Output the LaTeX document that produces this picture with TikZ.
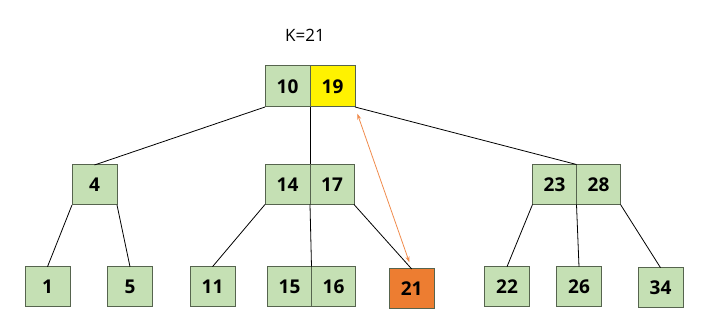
\documentclass[tikz,border=0pt]{standalone}
\usepackage{fontspec}
\setmainfont{Open Sans}
\usetikzlibrary{arrows.meta,positioning}
\definecolor{keygreen}{HTML}{C5E0B4}
\definecolor{keyline}{HTML}{56644E}
\definecolor{hitorange}{HTML}{ED7D31}
\definecolor{pathorange}{HTML}{F08C4E}
\tikzset{
  keybox/.style={draw=keyline,line width=1pt,fill=keygreen,minimum width=45pt,
    minimum height=40pt,inner sep=0pt,outer sep=0pt,font=\fontsize{19}{19}\selectfont\bfseries},
  edge/.style={line width=0.8pt},
  tracearrow/.style={draw=pathorange,line width=0.8pt,{Stealth[length=6pt,width=4pt]}-{Stealth[length=6pt,width=4pt]},
    shorten <=7pt,shorten >=7pt}
}
\begin{document}
\begin{tikzpicture}[x=1pt,y=-1pt]
\useasboundingbox (0,0) rectangle (712,328);
\node[font=\fontsize{17}{17}\selectfont] (query) at (305,35) {K=21};

% root
\node[keybox,minimum height=41pt] (n10) at (287.5,86.5) {10};
\node[keybox,minimum height=41pt,fill=yellow,right=0pt of n10] (n19) {19};

% inner nodes
\node[keybox] (n4) at (94.5,185) {4};
\node[keybox] (n14) at (287.5,184.5) {14};
\node[keybox,right=0pt of n14,minimum width=44pt] (n17) {17};
\node[keybox,minimum width=44pt] (n23) at (554.5,184.5) {23};
\node[keybox,right=0pt of n23,minimum width=44pt] (n28) {28};

% leaves
\foreach \name/\x/\y/\lab in {
n1/47.5/286.7/1,
n5/130/286.7/5,
n11/212.5/286.7/11,
n22/507/286.7/22,
n26/579/286.7/26,
n34/660.5/287.7/34}
{
  \node[keybox] (\name) at (\x,\y) {\lab};
}
\node[keybox,minimum width=44pt] (n15) at (289.5,286.7) {15};
\node[keybox,right=0pt of n15,minimum width=44pt] (n16) {16};
\node[keybox,fill=hitorange] (n21) at (411.7,289) {21};

\draw[edge] (n10.south west) -- (n4.north);
\draw[edge] (n10.south east) -- (n14.north east);
\draw[edge] (n19.south east) -- (n23.north east);
\draw[edge] (n4.south west) -- (n1.north);
\draw[edge] (n4.south east) -- (n5.north);
\draw[edge] (n14.south west) -- (n11.north);
\draw[edge] (n14.south east) -- (n15.north east);
\draw[edge] (n17.south east) -- (n21.north);
\draw[edge] (n23.south west) -- (n22.north);
\draw[edge] (n23.south east) -- (n26.north);
\draw[edge] (n28.south east) -- (n34.north);

\draw[tracearrow] (n19.south east) -- (n21.north);
\end{tikzpicture}
\end{document}
